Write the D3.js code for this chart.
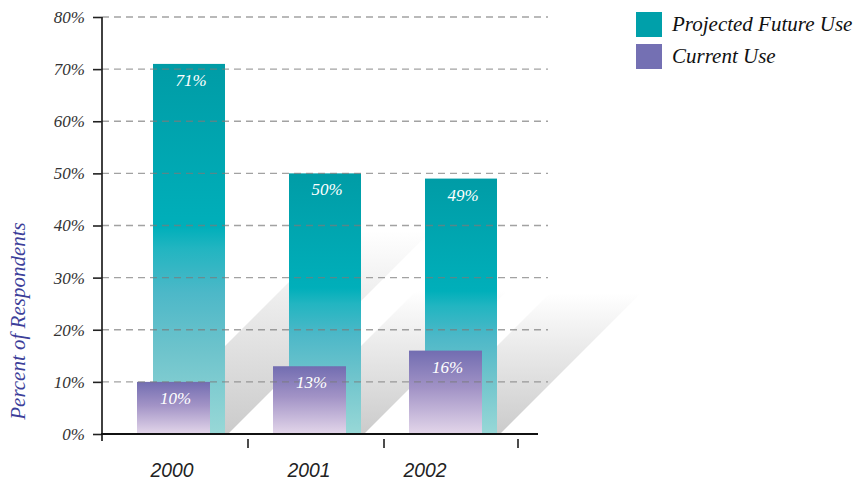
<!DOCTYPE html>
<html>
<head>
<meta charset="utf-8">
<script src="https://cdn.jsdelivr.net/npm/d3@7"></script>
<style>
  body { margin: 0; background: #fff; }
  svg { display: block; }
</style>
</head>
<body>
<div id="chart"></div>
<script>
const years = ["2000", "2001", "2002"];
const currentUse = [10, 13, 16];
const projectedUse = [71, 50, 49];
const yTicks = [0, 10, 20, 30, 40, 50, 60, 70, 80];
const legendLabels = ["Projected Future Use", "Current Use"];

const W = 868, H = 483;
const serif = "'Liberation Serif', 'Times New Roman', serif";
const sans = "'Liberation Sans', Arial, sans-serif";

// year labels sit a little left of the band centre in the original
const labelNudge = [-8, -7, -27];

const svg = d3.select("#chart").append("svg")
    .attr("width", W)
    .attr("height", H);

const y = d3.scaleLinear().domain([0, 80]).range([434, 17]);
const x = d3.scaleBand().domain(years).range([112, 520]);

const defs = svg.append("defs");

function vGrad(id, stops) {
    const g = defs.append("linearGradient")
        .attr("id", id)
        .attr("x1", 0).attr("y1", 0).attr("x2", 0).attr("y2", 1);
    stops.forEach(s => g.append("stop").attr("offset", s[0]).attr("stop-color", s[1]));
}
vGrad("gProj", [[0, "#009ca6"], [0.44, "#00afba"], [0.5, "#22b5c1"], [0.62, "#4db8c8"], [0.78, "#6fc4cc"], [1, "#98d8d7"]]);
vGrad("gCur", [[0, "#726db1"], [0.45, "#a293c6"], [1, "#e3d6ea"]]);
vGrad("gShadow", [[0, "#ffffff"], [0.35, "#ececec"], [1, "#cbcbcb"]]);

const projW = 72, curW = 73;
const projOff = 41, curOff = 25;
const band = 88; // thickness of the diagonal shadow

// shadows
svg.append("g").selectAll("polygon")
    .data(years)
    .join("polygon")
    .attr("fill", "url(#gShadow)")
    .attr("points", (d, i) => {
        const xr = x(d) + projOff + projW;
        const h = 0.55 * (y(0) - y(projectedUse[i]));
        const b = y(0);
        return [
            [xr, b], [xr, b - band], [xr + h - band, b - h], [xr + h + 3, b - h], [xr + 3, b]
        ].map(p => p.join(",")).join(" ");
    });

// projected bars
svg.append("g").selectAll("rect")
    .data(years)
    .join("rect")
    .attr("x", d => x(d) + projOff)
    .attr("y", (d, i) => y(projectedUse[i]))
    .attr("width", projW)
    .attr("height", (d, i) => y(0) - y(projectedUse[i]))
    .attr("fill", "url(#gProj)");

// current bars
svg.append("g").selectAll("rect")
    .data(years)
    .join("rect")
    .attr("x", d => x(d) + curOff)
    .attr("y", (d, i) => y(currentUse[i]))
    .attr("width", curW)
    .attr("height", (d, i) => y(0) - y(currentUse[i]))
    .attr("fill", "url(#gCur)");

// gridlines on top of the bars
svg.append("g").selectAll("line")
    .data(yTicks.slice(1))
    .join("line")
    .attr("x1", 102).attr("x2", 548)
    .attr("y1", d => y(d)).attr("y2", d => y(d))
    .attr("stroke", "#7a7a7a")
    .attr("stroke-opacity", 0.7)
    .attr("stroke-width", 1.3)
    .attr("stroke-dasharray", "7,5");

// value labels
const lbl = svg.append("g")
    .attr("font-family", serif)
    .attr("font-style", "italic")
    .attr("font-size", 17)
    .attr("fill", "#fff")
    .attr("text-anchor", "middle");
lbl.selectAll(".pv")
    .data(years)
    .join("text")
    .attr("class", "pv")
    .attr("x", d => x(d) + projOff + projW / 2 + 2)
    .attr("y", (d, i) => y(projectedUse[i]) + 22)
    .text((d, i) => projectedUse[i] + "%");
lbl.selectAll(".cv")
    .data(years)
    .join("text")
    .attr("class", "cv")
    .attr("x", d => x(d) + curOff + curW / 2 + 2)
    .attr("y", (d, i) => y(currentUse[i]) + 22)
    .text((d, i) => currentUse[i] + "%");

// y axis
const yAxis = svg.append("g")
    .attr("transform", "translate(102,0)")
    .call(d3.axisLeft(y).tickValues(yTicks).tickSize(9).tickFormat(d => d + "%"));
yAxis.select(".domain").attr("d", "M0," + y(80) + "V441").attr("stroke", "#111").attr("stroke-width", 1.6);
yAxis.selectAll(".tick line").attr("stroke", "#222").attr("stroke-width", 1.6);
yAxis.selectAll(".tick text")
    .attr("x", -17)
    .attr("font-family", serif)
    .attr("font-style", "italic")
    .attr("font-size", 17)
    .attr("fill", "#333");

// x axis baseline + ticks
svg.append("line")
    .attr("x1", 101).attr("x2", 538)
    .attr("y1", y(0)).attr("y2", y(0))
    .attr("stroke", "#111").attr("stroke-width", 2);
svg.append("g").selectAll("line")
    .data(years.slice(1).map(d => x(d)).concat([x.range()[1] - 2]))
    .join("line")
    .attr("x1", d => d).attr("x2", d => d)
    .attr("y1", 439).attr("y2", 448)
    .attr("stroke", "#111").attr("stroke-width", 1.5);

svg.append("g").selectAll("text")
    .data(years)
    .join("text")
    .attr("x", (d, i) => x(d) + x.bandwidth() / 2 + labelNudge[i])
    .attr("y", 477)
    .attr("text-anchor", "middle")
    .attr("font-family", sans)
    .attr("font-style", "italic")
    .attr("font-size", 21)
    .attr("textLength", 43)
    .attr("lengthAdjust", "spacingAndGlyphs")
    .attr("fill", "#222")
    .text(d => d);

// y axis title
svg.append("text")
    .attr("transform", "translate(25,321) rotate(-90)")
    .attr("text-anchor", "middle")
    .attr("font-family", serif)
    .attr("font-style", "italic")
    .attr("font-size", 21)
    .attr("fill", "#3d3f9a")
    .text("Percent of Respondents");

// legend
const legendColors = ["#00a0aa", "#7470b3"];
const leg = svg.append("g").selectAll("g")
    .data(legendLabels)
    .join("g")
    .attr("transform", (d, i) => `translate(636,${12 + i * 32})`);
leg.append("rect")
    .attr("width", 26).attr("height", 25)
    .attr("fill", (d, i) => legendColors[i]);
leg.append("text")
    .attr("x", 36).attr("y", 19)
    .attr("font-family", serif)
    .attr("font-style", "italic")
    .attr("font-size", 21)
    .attr("fill", "#111")
    .text(d => d);
</script>
</body>
</html>
